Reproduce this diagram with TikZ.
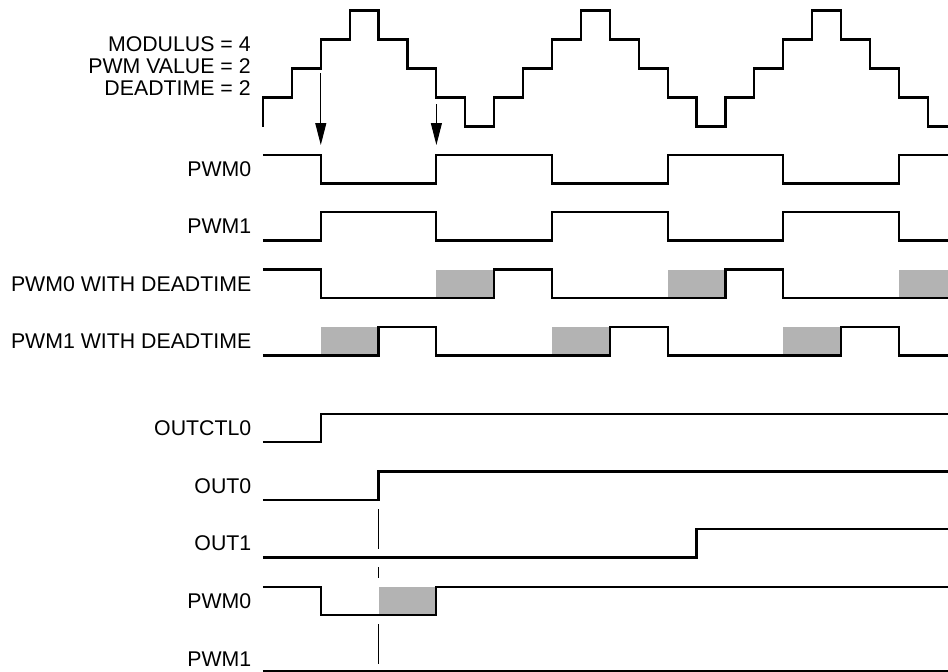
\documentclass[tikz,border=0pt]{standalone}
\usepackage{fontspec}
\setmainfont{Liberation Sans}
\usetikzlibrary{arrows.meta}
\definecolor{deadGray}{RGB}{179,179,179}

\tikzset{
  signal/.style={line width=2.2pt},
  deadbox/.style={fill=deadGray},
  edgearrow/.style={line width=1pt, -{Triangle[length=22pt,width=11pt]}},
  marker/.style={line width=1.1pt},
  siglabel/.style={anchor=east, inner sep=0pt, font=\fontsize{21.3}{22}\selectfont},
  parlabel/.style={anchor=base east, inner sep=0pt, font=\fontsize{21.3}{22}\selectfont}
}

\begin{document}
\begin{tikzpicture}[x=28.9pt, y=-1pt]
      \useasboundingbox (-9.1003,0) rectangle (23.7024,672);
      \clip (-9.1003,0) rectangle (23.7024,672);

      % settings
      \node[parlabel] (modlabel) at (-0.42,51.7) {MODULUS = 4};
      \node[parlabel] (pwmvallabel) at (-0.42,73.5) {PWM VALUE = 2};
      \node[parlabel] (deadlabel) at (-0.42,95.3) {DEADTIME = 2};

      % counter staircase, one level = 29pt
      \draw[signal] (0,126.5) \foreach \p in {0,8,16} {
        |- (\p+1,97.5) |- (\p+2,68.5) |- (\p+3,39.5) |- (\p+4,10.5)
        |- (\p+5,39.5) |- (\p+6,68.5) |- (\p+7,97.5) |- (\p+8,126.5)};

      % compare points
      \coordinate (fall0) at (2,73);
      \coordinate (tip0) at (2,145);
      \coordinate (rise0) at (6,104);
      \coordinate (tip1) at (6,145);
      \draw[edgearrow] (fall0) -- (tip0);
      \draw[edgearrow] (rise0) -- (tip1);

      % row labels
      \node[siglabel] (lpwm0) at (-0.4,169.2) {PWM0};
      \node[siglabel] (lpwm1) at (-0.4,226.2) {PWM1};
      \node[siglabel] (lpwm0dt) at (-0.4,283.7) {PWM0 WITH DEADTIME};
      \node[siglabel] (lpwm1dt) at (-0.4,341.2) {PWM1 WITH DEADTIME};
      \node[siglabel] (loutctl) at (-0.4,428.2) {OUTCTL0};
      \node[siglabel] (lout0) at (-0.4,485.7) {OUT0};
      \node[siglabel] (lout1) at (-0.4,543.2) {OUT1};
      \node[siglabel] (lpwm0b) at (-0.4,601.2) {PWM0};
      \node[siglabel] (lpwm1b) at (-0.4,658.7) {PWM1};

      % deadtime boxes
      \fill[deadbox] (6,269.5) rectangle (8,298);
      \fill[deadbox] (14,269.5) rectangle (16,298);
      \fill[deadbox] (22,269.5) rectangle (23.7024,298);
      \fill[deadbox] (2,327) rectangle (4,355.5);
      \fill[deadbox] (10,327) rectangle (12,355.5);
      \fill[deadbox] (18,327) rectangle (20,355.5);
      \fill[deadbox] (4,587) rectangle (6,615);

      % PWM0, PWM1
      \draw[signal] (0,155) -| (2,183.5) -| (6,155) -| (10,183.5) -| (14,155)
        -| (18,183.5) -| (22,155) -- (23.8,155);
      \draw[signal] (0,240.5) -| (2,212) -| (6,240.5) -| (10,212) -| (14,240.5)
        -| (18,212) -| (22,240.5) -- (23.8,240.5);

      % with deadtime inserted
      \draw[signal] (0,269.5) -| (2,298) -| (8,269.5) -| (10,298) -| (16,269.5)
        -| (18,298) -- (23.8,298);
      \draw[signal] (0,355.5) -| (4,327) -| (6,355.5) -| (12,327) -| (14,355.5)
        -| (20,327) -| (22,355.5) -- (23.8,355.5);

      % output control
      \draw[signal] (0,442) -| (2,414) -- (23.8,414);
      \draw[signal] (0,500) -| (4,471.5) -- (23.8,471.5);
      \draw[signal] (0,557.5) -| (15,529) -- (23.8,529);
      \draw[signal] (0,587) -| (2,615) -| (6,587) -- (23.8,587);
      \draw[signal] (0,671) -- (23.8,671);

      % OUT0 edge marker
      \draw[marker] (4,509) -- (4,549);
      \draw[marker] (4,567) -- (4,578);
      \draw[marker] (4,624) -- (4,664);
    \end{tikzpicture}
\end{document}
